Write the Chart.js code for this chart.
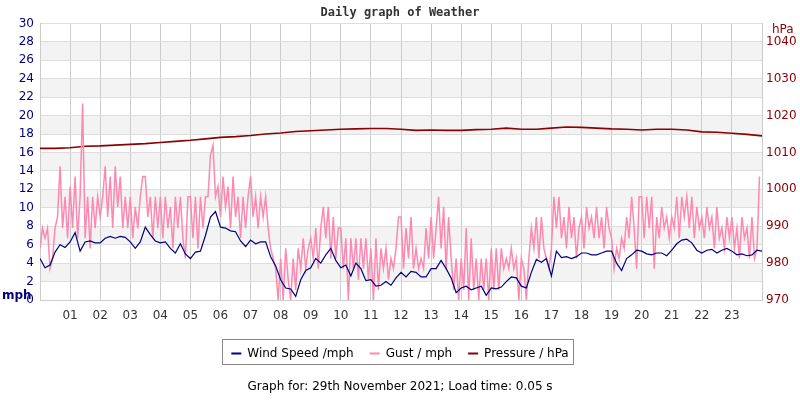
<!DOCTYPE html>
<html>
<head>
<meta charset="utf-8">
<title>Daily graph of Weather</title>
<script src="https://cdn.jsdelivr.net/npm/chart.js@4.4.1/dist/chart.umd.min.js"></script>
<style>
  html, body { margin: 0; padding: 0; background: #fff; }
  canvas { display: block; }
</style>
</head>
<body>
<canvas id="weather" width="800" height="400"></canvas>
<script>
// hour tick labels shown under the x axis
const hourLabels = ['01','02','03','04','05','06','07','08','09','10','11','12',
                    '13','14','15','16','17','18','19','20','21','22','23'];

// wind speed, mph, one reading every 10 minutes from 00:00 to 24:00
const windStepMin = 10;
const windSpeed = [
  4.5, 3.5, 3.8, 5.2, 6.0, 5.7,
  6.3, 7.3, 5.3, 6.3, 6.4, 6.2,
  6.2, 6.7, 6.9, 6.7, 6.9, 6.8,
  6.3, 5.6, 6.3, 7.9, 7.1, 6.4,
  6.2, 6.3, 5.6, 5.1, 6.1, 5.0,
  4.5, 5.2, 5.3, 7.0, 9.0, 9.6,
  7.9, 7.8, 7.5, 7.4, 6.4, 5.8,
  6.5, 6.1, 6.3, 6.3, 4.7, 3.7,
  2.2, 1.3, 1.2, 0.4, 2.2, 3.2,
  3.5, 4.5, 4.0, 4.9, 5.6, 4.3,
  3.5, 3.8, 2.6, 4.0, 3.4, 2.1,
  2.2, 1.5, 1.6, 2.0, 1.6, 2.4,
  3.0, 2.5, 3.1, 3.0, 2.5, 2.5,
  3.4, 3.4, 4.3, 3.4, 2.4, 0.8,
  1.3, 1.5, 1.1, 1.3, 1.5, 0.5,
  1.3, 1.2, 1.4, 2.0, 2.5, 2.4,
  1.5, 1.3, 3.0, 4.4, 4.1, 4.5,
  2.6, 5.3, 4.6, 4.7, 4.5, 4.7,
  5.1, 5.1, 4.9, 4.9, 5.1, 5.3,
  5.3, 4.0, 3.2, 4.5, 4.9, 5.4,
  5.3, 5.0, 4.9, 5.1, 5.1, 4.8,
  5.4, 6.1, 6.5, 6.6, 6.2, 5.4,
  5.1, 5.4, 5.5, 5.1, 5.4, 5.6,
  5.3, 4.9, 5.0, 4.8, 4.9, 5.4,
  5.3
];

// gust, mph, one reading every 5 minutes
const gustStepMin = 5;
const gust = [
  5.6, 7.8, 6.7, 7.8, 3.4, 4.5, 7.8, 9.0, 14.5, 7.8, 11.2, 6.7,
  12.3, 7.8, 13.4, 6.7, 11.2, 21.3, 6.7, 11.2, 5.6, 11.2, 7.8, 11.2,
  9.0, 11.2, 14.5, 9.0, 13.4, 7.8, 14.5, 10.1, 13.4, 7.8, 11.2, 7.8,
  11.2, 6.7, 10.1, 7.8, 11.2, 13.4, 13.4, 9.0, 11.2, 6.7, 11.2, 7.8,
  11.2, 6.7, 11.2, 7.8, 10.1, 5.6, 11.2, 7.8, 11.2, 6.7, 4.5, 11.2,
  11.2, 6.7, 11.2, 5.6, 11.2, 7.8, 11.2, 11.2, 15.7, 16.8, 11.2, 12.3,
  9.0, 13.4, 10.1, 12.3, 7.8, 13.4, 9.0, 11.2, 6.7, 11.2, 7.8, 11.2,
  13.4, 9.0, 11.2, 7.8, 11.2, 9.0, 11.2, 7.8, 5.6, 4.5, 3.4, 0,
  4.5, 0, 5.6, 2.2, 0, 4.5, 1.1, 5.6, 3.4, 6.7, 3.4, 5.6,
  6.7, 4.5, 7.8, 3.4, 7.8, 10.1, 6.7, 10.1, 4.5, 9.0, 4.5, 7.8,
  7.8, 3.4, 6.7, 0, 6.7, 3.4, 6.7, 2.2, 6.7, 3.4, 6.7, 2.2,
  5.6, 0, 6.7, 1.1, 5.6, 3.4, 5.6, 2.2, 4.5, 3.4, 5.6, 9.0,
  9.0, 3.4, 7.8, 4.5, 9.0, 3.4, 5.6, 3.4, 4.5, 3.4, 7.8, 4.5,
  9.0, 4.5, 7.8, 11.2, 5.6, 10.1, 3.4, 9.0, 4.5, 1.1, 4.5, 0,
  4.5, 1.1, 7.8, 0, 6.7, 1.1, 4.5, 0, 4.5, 1.1, 4.5, 0,
  5.6, 1.1, 5.6, 1.1, 5.6, 3.4, 4.5, 3.4, 5.6, 3.4, 4.5, 0,
  4.5, 3.4, 0, 4.5, 7.8, 5.6, 9.0, 4.5, 9.0, 5.6, 4.5, 3.4,
  5.6, 11.2, 7.8, 11.2, 6.7, 9.0, 5.6, 10.1, 6.7, 9.0, 4.5, 7.8,
  9.0, 5.6, 10.1, 7.8, 9.0, 6.7, 10.1, 6.7, 9.0, 5.6, 10.1, 7.8,
  6.7, 3.4, 5.6, 4.5, 6.7, 5.6, 9.0, 6.7, 11.2, 7.8, 3.4, 11.2,
  11.2, 6.7, 11.2, 7.8, 11.2, 3.4, 9.0, 6.7, 10.1, 7.8, 9.0, 6.7,
  9.0, 7.8, 11.2, 6.7, 11.2, 9.0, 11.2, 7.8, 11.2, 6.7, 10.1, 7.8,
  9.0, 6.7, 10.1, 7.8, 9.0, 5.6, 10.1, 6.7, 7.8, 5.6, 9.0, 6.7,
  9.0, 5.6, 7.8, 4.5, 9.0, 6.7, 7.8, 4.5, 9.0, 4.5, 5.6, 13.4
];

// pressure, hPa, one reading every 30 minutes
const pressureStepMin = 30;
const pressure = [
  1011.1, 1011.1, 1011.3, 1011.7, 1011.8, 1012.0, 1012.2, 1012.4,
  1012.7, 1013.0, 1013.3, 1013.7, 1014.1, 1014.3, 1014.6, 1015.0,
  1015.3, 1015.7, 1015.9, 1016.1, 1016.3, 1016.4, 1016.5, 1016.5,
  1016.3, 1016.0, 1016.1, 1016.0, 1016.0, 1016.2, 1016.3, 1016.6,
  1016.3, 1016.3, 1016.6, 1016.9, 1016.8, 1016.6, 1016.4, 1016.3,
  1016.1, 1016.3, 1016.3, 1016.1, 1015.6, 1015.5, 1015.2, 1014.9,
  1014.5
];

const toPoints = (arr, stepMin) => arr.map((v, i) => ({ x: i * stepMin / 60, y: v }));

const txt = 'DejaVu Sans';
const windColor = '#000080';
const gustColor = '#ff88b0';
const pressColor = '#8b0000';

// bands, legend frame and the two unit captions
const decor = {
  id: 'decor',
  beforeDraw(chart) {
    const { ctx, chartArea: a } = chart;
    const y = chart.scales.y;
    ctx.save();
    ctx.fillStyle = '#ffffff';
    ctx.fillRect(0, 0, chart.width, chart.height);
    ctx.fillStyle = '#f3f3f3';
    for (let v = 2; v < 30; v += 4) {
      const top = y.getPixelForValue(v + 2);
      const bot = y.getPixelForValue(v);
      ctx.fillRect(a.left, top, a.right - a.left, bot - top);
    }
    ctx.restore();
  },
  afterDraw(chart) {
    const { ctx } = chart;
    const hb = chart.legend.legendHitBoxes;
    if (hb && hb.length) {
      const l = Math.min(...hb.map(h => h.left)) - 9;
      const r = Math.max(...hb.map(h => h.left + h.width)) + 5;
      const t = hb[0].top - 9;
      const b = hb[0].top + 16;
      ctx.save();
      ctx.strokeStyle = '#888888';
      ctx.lineWidth = 1;
      ctx.strokeRect(Math.round(l) + 0.5, Math.round(t) + 0.5, Math.round(r - l), Math.round(b - t));
      ctx.restore();
    }
    ctx.save();
    ctx.textBaseline = 'middle';
    ctx.fillStyle = windColor;
    ctx.font = 'bold 12px "' + txt + '"';
    ctx.textAlign = 'left';
    ctx.fillText('mph', 2, 296);
    ctx.fillStyle = pressColor;
    ctx.font = '12px "' + txt + '"';
    ctx.fillText('hPa', 772, 30);
    ctx.restore();
  }
};

new Chart(document.getElementById('weather'), {
  type: 'line',
  data: {
    datasets: [
      {
        label: 'Wind Speed /mph',
        data: toPoints(windSpeed, windStepMin),
        borderColor: windColor,
        backgroundColor: windColor,
        borderWidth: 1.2,
        yAxisID: 'y'
      },
      {
        label: 'Gust / mph',
        data: toPoints(gust, gustStepMin),
        borderColor: gustColor,
        backgroundColor: gustColor,
        borderWidth: 1.5,
        yAxisID: 'y'
      },
      {
        label: 'Pressure / hPa',
        data: toPoints(pressure, pressureStepMin),
        borderColor: pressColor,
        backgroundColor: pressColor,
        borderWidth: 1.6,
        yAxisID: 'y2'
      }
    ]
  },
  options: {
    responsive: false,
    animation: false,
    elements: { point: { radius: 0 }, line: { tension: 0 } },
    layout: { padding: 0 },
    scales: {
      x: {
        type: 'linear',
        min: 0,
        max: 24,
        afterFit(s) { s.height = 31.6; },
        ticks: {
          stepSize: 1,
          autoSkip: false,
          maxRotation: 0,
          padding: 9,
          color: '#333333',
          font: { family: txt, size: 12 },
          callback: v => (v > 0 && v < 24) ? hourLabels[v - 1] : ''
        },
        grid: { color: '#cccccc', drawTicks: false },
        border: { color: '#cccccc' }
      },
      y: {
        position: 'left',
        min: 0,
        max: 30,
        afterFit(s) { s.width = 40; },
        ticks: {
          stepSize: 2,
          padding: 6,
          color: windColor,
          font: { family: txt, size: 12 },
          callback: v => String(v)
        },
        grid: { color: '#dddddd', drawTicks: false },
        border: { color: '#cccccc' }
      },
      y2: {
        position: 'right',
        min: 970,
        max: 1045,
        afterFit(s) { s.width = 38; },
        ticks: {
          stepSize: 10,
          includeBounds: false,
          padding: 4,
          color: pressColor,
          font: { family: txt, size: 12 },
          callback: v => String(v)
        },
        grid: { display: false, drawTicks: false },
        border: { color: '#cccccc' }
      }
    },
    plugins: {
      title: {
        display: true,
        text: 'Daily graph of Weather',
        color: '#333333',
        font: { family: 'DejaVu Sans Mono', size: 12, weight: 'bold' },
        padding: { top: 6, bottom: 3 }
      },
      subtitle: {
        display: true,
        position: 'bottom',
        text: 'Graph for: 29th November 2021; Load time: 0.05 s',
        color: '#000000',
        font: { family: txt, size: 12 },
        padding: { top: 10, bottom: 6 }
      },
      legend: {
        position: 'bottom',
        labels: {
          boxWidth: 10,
          boxHeight: 2,
          padding: 16,
          color: '#000000',
          font: { family: txt, size: 12 },
          generateLabels: chart => chart.data.datasets.map((d, i) => ({
            text: d.label,
            fillStyle: d.borderColor,
            strokeStyle: d.borderColor,
            lineWidth: 0,
            datasetIndex: i,
            hidden: false
          }))
        }
      },
      tooltip: { enabled: false }
    }
  },
  plugins: [decor]
});
</script>
</body>
</html>
